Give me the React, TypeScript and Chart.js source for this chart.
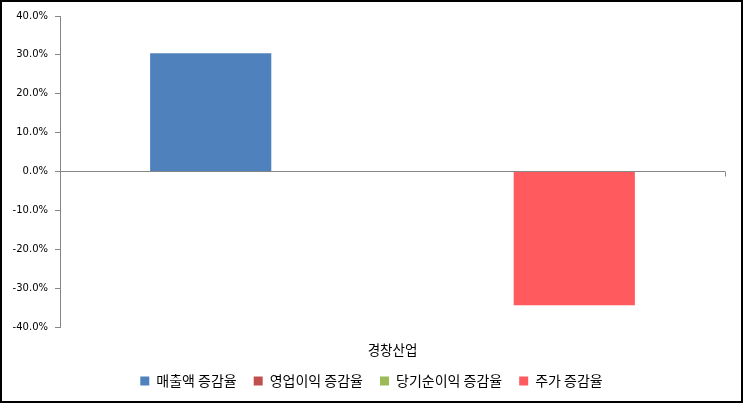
import React, { useEffect, useRef } from "react";
import { Chart, registerables } from "chart.js";

Chart.register(...registerables);

const categories = ["경창산업"];
const seriesNames = ["매출액 증감율", "영업이익 증감율", "당기순이익 증감율", "주가 증감율"];
const salesGrowth = [30.4];
const operatingProfitGrowth = [0];
const netIncomeGrowth = [0];
const stockPriceGrowth = [-34.4];
const seriesColors = ["#4F81BD", "#C0504D", "#9BBB59", "#FF5B5F"];
const yMin = -40;
const yMax = 40;
const yStep = 10;

const AXIS_GRAY = "#868686";
const KR_FONT = "'Noto Sans CJK KR', 'DejaVu Sans', sans-serif";

const axisEndTick = {
  id: "axisEndTick",
  afterDraw(chart: any) {
    const { ctx, chartArea, scales } = chart;
    const y0 = scales.y.getPixelForValue(0);
    ctx.save();
    ctx.strokeStyle = AXIS_GRAY;
    ctx.lineWidth = 1;
    ctx.beginPath();
    const x = Math.round(chartArea.right) + 0.5;
    ctx.moveTo(x, y0);
    ctx.lineTo(x, y0 + 5);
    ctx.stroke();
    ctx.restore();
  },
};

export default function App() {
  const canvasRef = useRef<HTMLCanvasElement | null>(null);

  useEffect(() => {
    document.body.style.margin = "0";
    const seriesData = [salesGrowth, operatingProfitGrowth, netIncomeGrowth, stockPriceGrowth];
    const chart = new Chart(canvasRef.current as HTMLCanvasElement, {
      type: "bar",
      data: {
        labels: categories,
        datasets: seriesNames.map((name, i) => ({
          label: name,
          data: seriesData[i],
          backgroundColor: seriesColors[i],
          borderWidth: 0,
          categoryPercentage: 0.729,
          barPercentage: 1,
        })),
      },
      options: {
        animation: false,
        responsive: true,
        maintainAspectRatio: false,
        layout: { padding: { left: 0, right: 0, top: 14, bottom: 10 } },
        plugins: {
          tooltip: { enabled: false },
          legend: {
            position: "bottom",
            maxHeight: 34,
            labels: {
              boxWidth: 9,
              boxHeight: 9,
              padding: 17,
              color: "#000",
              font: { family: KR_FONT, size: 14 },
            },
          },
        },
        scales: {
          x: {
            grid: { display: false, drawTicks: false },
            border: { display: false },
            ticks: {
              color: "#000",
              font: { family: KR_FONT, size: 13.5 },
              padding: 15,
            },
            afterFit: (s: any) => {
              s.height = 30;
            },
          },
          y: {
            min: yMin,
            max: yMax,
            ticks: {
              stepSize: yStep,
              color: "#000",
              font: { family: "'DejaVu Sans', sans-serif", size: 10 },
              padding: 7,
              callback: (v: any) => Number(v).toFixed(1) + "%",
            },
            grid: {
              color: (c: any) => (c.tick && c.tick.value === 0 ? AXIS_GRAY : "rgba(0,0,0,0)"),
              tickColor: AXIS_GRAY,
              tickLength: 5,
              lineWidth: 1,
            },
            border: { display: true, color: AXIS_GRAY, width: 1 },
            afterFit: (s: any) => {
              s.width = 58;
            },
          },
          yRight: {
            position: "right",
            min: yMin,
            max: yMax,
            ticks: { display: false },
            grid: { display: false },
            border: { display: false },
            afterFit: (s: any) => {
              s.width = 16;
            },
          },
        },
      },
      plugins: [axisEndTick],
    });
    return () => chart.destroy();
  }, []);

  return (
    <div
      style={{
        position: "fixed",
        left: 0,
        top: 0,
        width: 743,
        height: 403,
        border: "2px solid #000",
        boxSizing: "border-box",
        background: "#fff",
      }}
    >
      <div style={{ position: "relative", width: 739, height: 399 }}>
        <canvas ref={canvasRef} />
      </div>
    </div>
  );
}
